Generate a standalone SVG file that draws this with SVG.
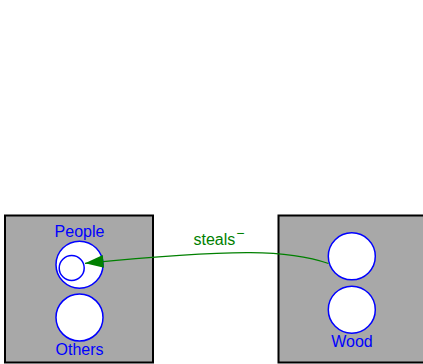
<svg xmlns="http://www.w3.org/2000/svg" width="423" height="364" viewBox="0 0 423 364">
<style>
.box{fill:#a8a8a8;stroke:#000;stroke-width:2}
.c{fill:#fff;stroke:#0000ff;stroke-width:1.5}
.lbl{font-family:"Liberation Sans",Arial,sans-serif;font-size:16px;fill:#0000ff;text-anchor:middle}
.edge{fill:none;stroke:#008000;stroke-width:1.3}
.elbl{font-family:"Liberation Sans",Arial,sans-serif;font-size:16px;fill:#008000}
</style>
<defs>
<marker id="arr" markerUnits="userSpaceOnUse" markerWidth="22" markerHeight="16" viewBox="-20 -8 22 16" refX="0" refY="0" orient="auto">
<path d="M0,0 L-18.5,-6.4 L-18.5,6.4 Z" fill="#008000"/>
</marker>
</defs>
<rect width="423" height="364" fill="#fff"/>
<g id="left">
<rect class="box" x="5" y="215.5" width="148" height="147"/>
<g id="people">
<circle class="c" cx="79.5" cy="264.7" r="23.5"/>
<circle class="c" cx="71.7" cy="268" r="12.5" stroke-width="1.2"/>
<text class="lbl" x="79.5" y="236.7">People</text>
</g>
<g id="others">
<circle class="c" cx="79.5" cy="317.5" r="23.5"/>
<text class="lbl" x="79.5" y="355">Others</text>
</g>
</g>
<g id="right">
<rect class="box" x="278.5" y="215.5" width="150" height="147"/>
<g id="wood-top">
<circle class="c" cx="351.8" cy="256.3" r="23.5"/>
</g>
<g id="wood">
<circle class="c" cx="351.8" cy="309.7" r="23.5"/>
<text class="lbl" x="352" y="346.7">Wood</text>
</g>
</g>
<g id="connectors">
<path class="edge" d="M328.5,263.5 C290,250 240,248 85,263.3" marker-end="url(#arr)"/>
<text class="elbl" x="193.5" y="245">steals<tspan font-size="14" dy="-7" dx="1">−</tspan></text>
</g>
</svg>
